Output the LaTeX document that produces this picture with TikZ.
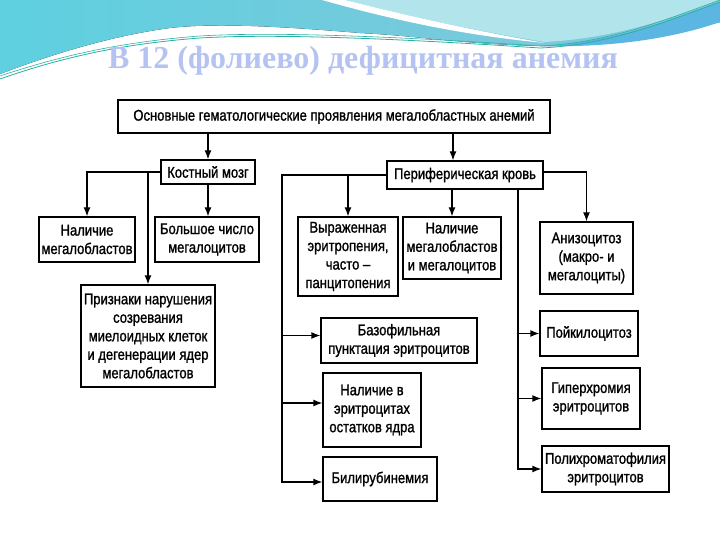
\documentclass[tikz,border=0pt]{standalone}
\usepackage{fontspec}
\setmainfont{Liberation Sans}[FakeStretch=0.84,FakeBold=1.2]
\newfontfamily\titlefont{Liberation Serif}
\usetikzlibrary{arrows.meta}
\definecolor{tealL}{RGB}{94,208,224}
\definecolor{tealR}{RGB}{132,198,218}
\definecolor{paleC}{RGB}{178,228,236}
\definecolor{blueR}{RGB}{92,182,226}
\definecolor{lineT}{RGB}{40,176,164}
\definecolor{titleC}{RGB}{180,195,241}
\begin{document}
\begin{tikzpicture}[x=1pt,y=-1pt,
  bx/.style={draw,line width=1.3pt,align=center,inner sep=1pt,
    font=\fontsize{15.5}{18.5}\selectfont},
  arr/.style={line width=1.3pt,-{Latex[length=9pt,width=7pt]}}]
 \useasboundingbox (0,0) rectangle (720,540);
 \fill[left color=tealL,right color=tealR] (0,0) -- (720,0) -- (720,22) .. controls (660,38) and (600,47) .. (540,46) .. controls (460,44) and (420,36) .. (360,33) .. controls (300,28) and (220,22) .. (170,28) .. controls (110,36) and (50,55) .. (0,74) -- cycle;
 \fill[paleC] (345,0) .. controls (400,14) and (470,30) .. (545,42) .. controls (620,38) and (680,15) .. (720,0) -- cycle;
 \fill[white] (322,0) .. controls (400,22) and (470,36) .. (545,43) .. controls (470,30) and (400,14) .. (345,0) -- cycle;
 \fill[blueR] (540,46) .. controls (620,42) and (680,16) .. (720,2) -- (720,22) .. controls (680,36) and (620,48) .. (540,46) -- cycle;
 \draw[lineT,line width=0.8pt] (0,79) .. controls (60,58) and (120,44) .. (200,38) .. controls (280,33) and (420,40) .. (540,48) .. controls (610,45) and (670,20) .. (720,2);
 \draw[lineT,line width=0.6pt] (0,76) .. controls (60,56) and (120,42) .. (200,36) .. controls (280,31) and (420,38) .. (540,46) .. controls (610,43) and (670,18) .. (720,0);
 \node[text=titleC,font=\titlefont\bfseries\fontsize{32}{34}\selectfont] (title) at (363,61) {В 12 (фолиево) дефицитная анемия};
 \node[bx,minimum width=432pt,minimum height=33pt] (top) at (334,116.5) {Основные гематологические проявления мегалобластных анемий};
 \node[bx,minimum width=94pt,minimum height=24pt] (bm) at (208,172) {Костный мозг};
 \node[bx,minimum width=156pt,minimum height=28pt] (pk) at (465,175) {Периферическая кровь};
 \node[bx,minimum width=96pt,minimum height=45pt] (megbl) at (87,239.5) {Наличие\\мегалобластов};
 \node[bx,minimum width=104pt,minimum height=45pt] (bolsh) at (207,239.5) {Большое число\\мегалоцитов};
 \node[bx,minimum width=134pt,minimum height=102pt] (prizn) at (148,336) {Признаки нарушения\\созревания\\миелоидных клеток\\и дегенерации ядер\\мегалобластов};
 \node[bx,minimum width=100pt,minimum height=79pt] (vyraj) at (348,256.5) {Выраженная\\эритропения,\\часто –\\панцитопения};
 \node[bx,minimum width=98pt,minimum height=62pt] (nalmm) at (452,248) {Наличие\\мегалобластов\\и мегалоцитов};
 \node[bx,minimum width=156pt,minimum height=45pt] (bazo) at (399,340.5) {Базофильная\\пунктация эритроцитов};
 \node[bx,minimum width=98pt,minimum height=74pt] (ostat) at (372,410) {Наличие в\\эритроцитах\\остатков ядра};
 \node[bx,minimum width=114pt,minimum height=44pt] (bili) at (380,479) {Билирубинемия};
 \node[bx,minimum width=93pt,minimum height=72pt] (aniz) at (586.5,258) {Анизоцитоз\\(макро- и\\мегалоциты)};
 \node[bx,minimum width=98pt,minimum height=45pt] (poik) at (589,333.5) {Пойкилоцитоз};
 \node[bx,minimum width=98pt,minimum height=61pt] (giper) at (591,398.5) {Гиперхромия\\эритроцитов};
 \node[bx,minimum width=127pt,minimum height=46pt] (poli) at (605.5,469) {Полихроматофилия\\эритроцитов};
 \coordinate (trunkL) at (282,0);
 \coordinate (trunkR) at (518,0);
 \draw[arr] (bm.north |- top.south) -- (bm.north);
 \draw[arr] ([xshift=-12pt]pk.north |- top.south) -- ([xshift=-12pt]pk.north);
 \draw[arr] (bm.west) -| (megbl.north);
 \draw[arr] (bm.west -| prizn.north) -- (prizn.north);
 \draw[arr] (bm.south) -- (bm.south |- bolsh.north);
 \draw[arr] (pk.west) -| ([yshift=-3pt]trunkL |- bili.west) -- ([yshift=-3pt]bili.west);
 \draw[arr] ([yshift=5pt]trunkL |- bazo.west) -- ([yshift=5pt]bazo.west);
 \draw[arr] ([yshift=7pt]trunkL |- ostat.west) -- ([yshift=7pt]ostat.west);
 \draw[arr] (pk.west -| vyraj.north) -- (vyraj.north);
 \draw[arr] (nalmm.north |- pk.south) -- (nalmm.north);
 \draw[arr] ([yshift=3pt]pk.east) -| (aniz.north);
 \draw[arr] (trunkR |- pk.south) |- (poli.west);
 \draw[arr] (trunkR |- poik.west) -- (poik.west);
 \draw[arr] (trunkR |- giper.west) -- (giper.west);
\end{tikzpicture}
\end{document}
